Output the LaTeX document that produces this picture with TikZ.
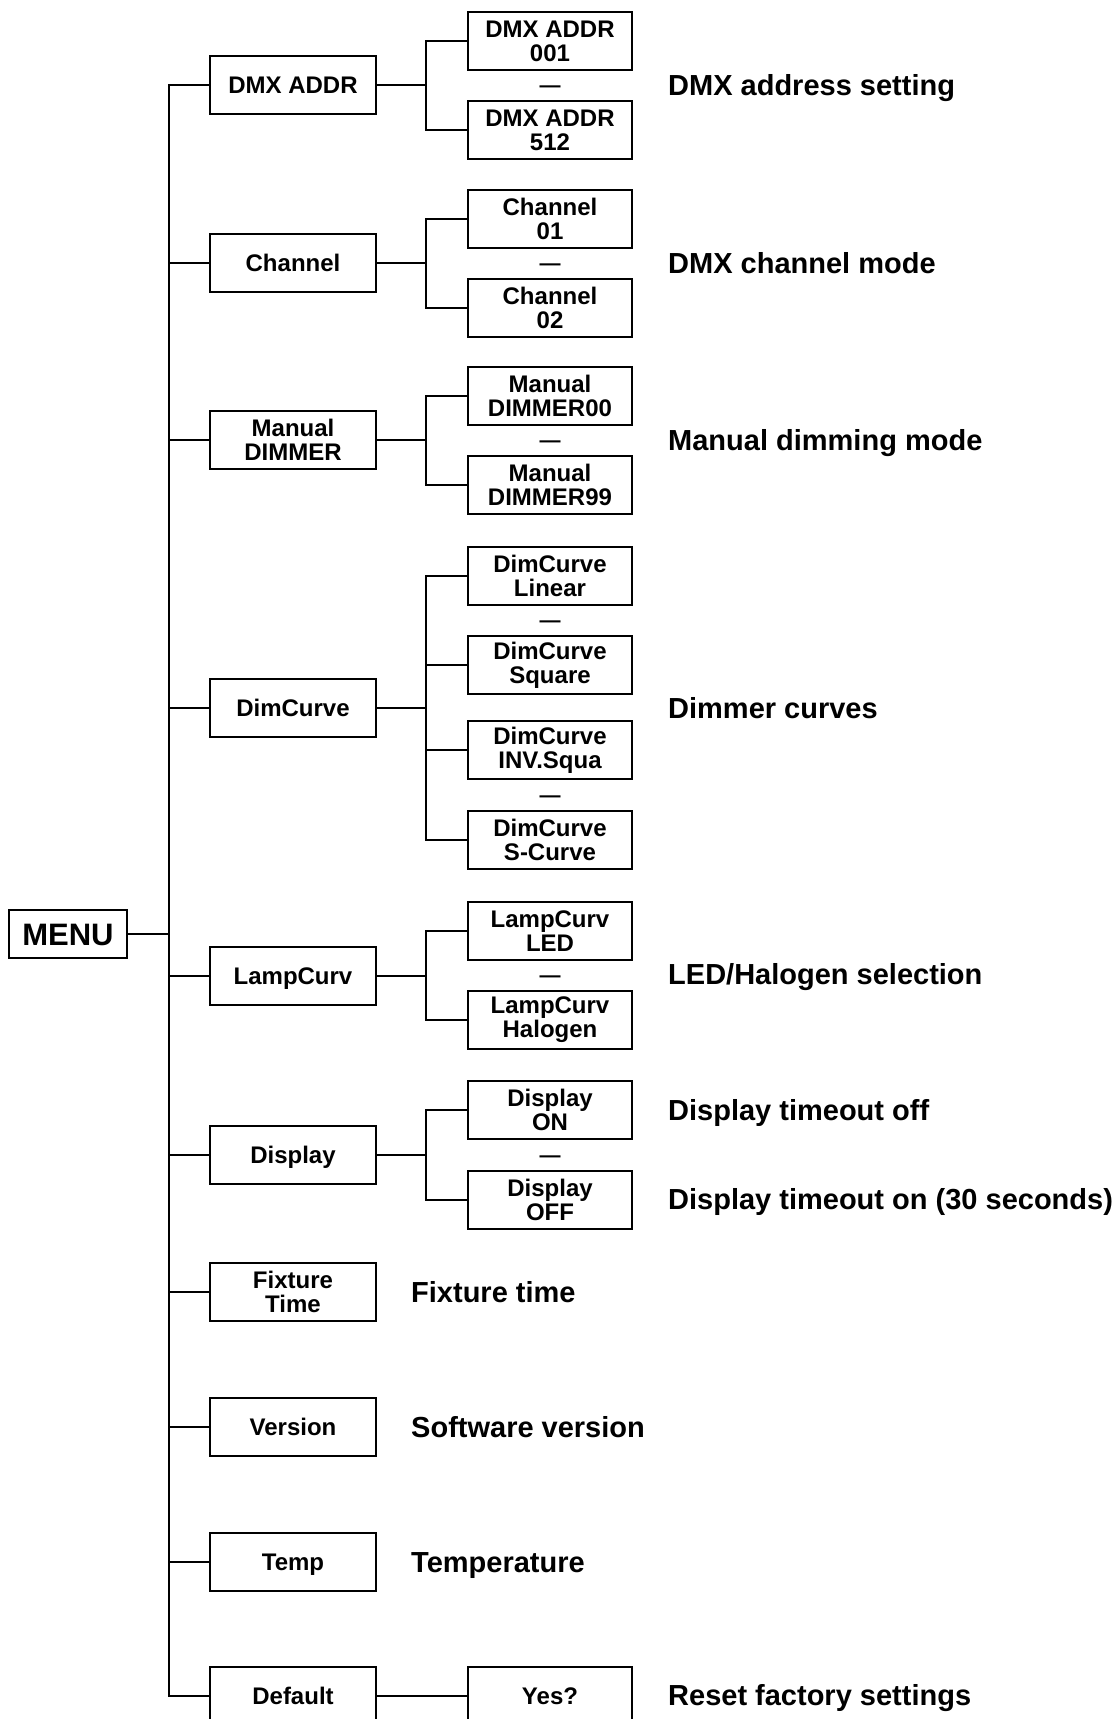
\documentclass[tikz,border=0pt]{standalone}
\usepackage{fontspec}
\setmainfont{Liberation Sans}
\begin{document}
\begin{tikzpicture}[x=1pt,y=-1pt,
  conn/.style={line width=2pt},
  boxbase/.style={draw, line width=2.2pt, inner sep=0pt, align=center,
    font=\fontsize{24}{24}\selectfont\bfseries},
  mbox/.style={boxbase, minimum width=166pt, minimum height=58pt, text height=17.2pt, text depth=0pt},
  mboxii/.style={boxbase, minimum width=166pt, minimum height=58pt},
  sbox/.style={boxbase, minimum width=164pt, minimum height=58pt},
  sboxi/.style={boxbase, minimum width=164pt, minimum height=58pt, text height=17.2pt, text depth=0pt},
  sep/.style={inner sep=0pt, font=\fontsize{21}{21}\selectfont\bfseries},
  lab/.style={anchor=west, inner sep=0pt, text height=21pt, text depth=0pt,
    font=\fontsize{29}{29}\selectfont\bfseries},
  menubox/.style={draw, line width=2.2pt, inner sep=0pt, minimum width=118pt, minimum height=48pt,
    text height=22.3pt, text depth=0pt, font=\fontsize{31}{31}\selectfont\bfseries}
]
\useasboundingbox (0,0) rectangle (1118,1719);
\coordinate (T) at (169,0);
\coordinate (B) at (426,0);

% menu
\node[menubox] (menu) at (68,934) {MENU};

% main boxes
\node[mbox]   (m1)  at (293,85)   {DMX ADDR};
\node[mbox]   (m2)  at (293,263)  {Channel};
\node[mboxii] (m3)  at (293,440)  {Manual\\DIMMER};
\node[mbox]   (m4)  at (293,708)  {DimCurve};
\node[mbox]   (m5)  at (293,976)  {LampCurv};
\node[mbox]   (m6)  at (293,1155) {Display};
\node[mboxii] (m7)  at (293,1292) {Fixture\\Time};
\node[mbox]   (m8)  at (293,1427) {Version};
\node[mbox]   (m9)  at (293,1562) {Temp};
\node[mbox]   (m10) at (293,1696) {Default};

% sub boxes
\node[sbox] (s1a) at (550,41)   {DMX ADDR\\001};
\node[sbox] (s1b) at (550,130)  {DMX ADDR\\512};
\node[sbox] (s2a) at (550,219)  {Channel\\01};
\node[sbox] (s2b) at (550,308)  {Channel\\02};
\node[sbox] (s3a) at (550,396)  {Manual\\DIMMER00};
\node[sbox] (s3b) at (550,485)  {Manual\\DIMMER99};
\node[sbox] (s4a) at (550,576)  {DimCurve\\Linear};
\node[sbox] (s4b) at (550,665)  {DimCurve\\Square};
\node[sbox] (s4c) at (550,750)  {DimCurve\\INV.Squa};
\node[sbox] (s4d) at (550,840)  {DimCurve\\S-Curve};
\node[sbox] (s5a) at (550,931)  {LampCurv\\LED};
\node[sbox] (s5b) at (550,1020) {LampCurv\\Halogen};
\node[sbox] (s6a) at (550,1110) {Display\\ON};
\node[sbox] (s6b) at (550,1200) {Display\\OFF};
\node[sboxi] (yes) at (550,1696) {Yes?};

% separators
\node[sep] (d1) at (550,89.5)  {—};
\node[sep] (d2) at (550,267.5) {—};
\node[sep] (d3) at (550,444.5) {—};
\node[sep] (d4) at (550,624.5) {—};
\node[sep] (d5) at (550,799)   {—};
\node[sep] (d6) at (550,979.5) {—};
\node[sep] (d7) at (550,1159)  {—};

% labels
\node[lab] (l1)  at (668,85)   {DMX address setting};
\node[lab] (l2)  at (668,263)  {DMX channel mode};
\node[lab] (l3)  at (668,440)  {Manual dimming mode};
\node[lab] (l4)  at (668,708)  {Dimmer curves};
\node[lab] (l5)  at (668,974)  {LED/Halogen selection};
\node[lab] (l6a) at (668,1110) {Display timeout off};
\node[lab] (l6b) at (668,1199) {Display timeout on (30 seconds)};
\node[lab] (l7)  at (411,1292) {Fixture time};
\node[lab] (l8)  at (411,1427) {Software version};
\node[lab] (l9)  at (411,1562) {Temperature};
\node[lab] (l10) at (668,1695) {Reset factory settings};

% trunk
\draw[conn] (m1.west) -- (m1.west -| T) -- (m10.west -| T) -- (m10.west);
\foreach \m in {m2,m3,m4,m5,m6,m7,m8,m9} {
  \draw[conn] (\m.west) -- (\m.west -| T);
}
\draw[conn] (menu.east) -- (menu.east -| T);

% branches
\foreach \m/\a/\b in {m1/s1a/s1b, m2/s2a/s2b, m3/s3a/s3b, m4/s4a/s4d, m5/s5a/s5b, m6/s6a/s6b} {
  \draw[conn] (\m.east) -- (\m.east -| B);
  \draw[conn] (\a.west) -- (\a.west -| B) -- (\b.west -| B) -- (\b.west);
}
\draw[conn] (s4b.west) -- (s4b.west -| B);
\draw[conn] (s4c.west) -- (s4c.west -| B);
\draw[conn] (m10.east) -- (yes.west);
\end{tikzpicture}
\end{document}
